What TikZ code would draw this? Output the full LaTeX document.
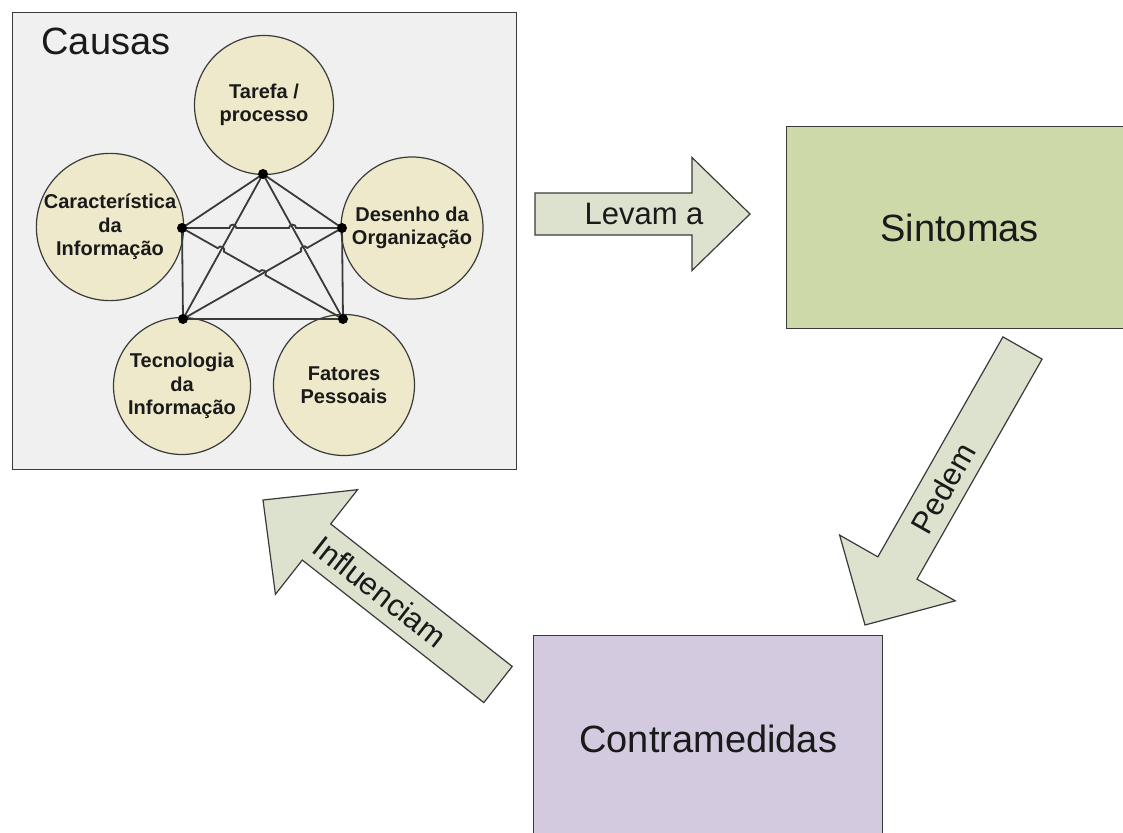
\documentclass[tikz,border=0pt]{standalone}
\usepackage{fontspec}
\setmainfont{Liberation Sans}
\usetikzlibrary{calc}

\definecolor{panelfill}{HTML}{F0F0F0}
\definecolor{framegray}{HTML}{3A3A3A}
\definecolor{causefill}{HTML}{EDE9CA}
\definecolor{symptomfill}{HTML}{CDD9A9}
\definecolor{counterfill}{HTML}{D4CAE0}
\definecolor{arrowfill}{HTML}{DCE2CE}
\definecolor{ink}{HTML}{1A1A1A}

% Block arrow from a tail centre to a tip:
% #1 tail, #2 tip, #3 half body width, #4 half head width, #5 head length
\newcommand{\blockarrow}[5]{%
  \coordinate (hb) at ($(#2)!#5!(#1)$);
  \draw[arrowshape]
    ($(#1)!#3!90:(#2)$) -- ($(hb)!#3!-90:(#1)$) -- ($(hb)!#4!-90:(#1)$)
    -- (#2) -- ($(hb)!#4!90:(#1)$) -- ($(hb)!#3!90:(#1)$)
    -- ($(#1)!#3!-90:(#2)$) -- cycle;
}

\tikzset{
  panel/.style={draw=framegray, line width=1.4pt, fill=panelfill,
    anchor=north west, inner sep=0pt},
  bigbox/.style={draw=framegray, line width=1.4pt, anchor=north west,
    inner sep=0pt, text=ink, font=\fontsize{38}{40}\selectfont},
  cause/.style={circle, draw=framegray, line width=1.2pt, fill=causefill,
    inner sep=0pt, align=center, text=ink,
    font=\bfseries\fontsize{20}{23.5}\selectfont},
  net/.style={draw=framegray, line width=1.8pt},
  arrowshape/.style={draw=framegray, line width=1.2pt, fill=arrowfill,
    line join=miter},
  arrowtext/.style={text=ink, font=\fontsize{31}{33}\selectfont, inner sep=0pt}
}

\begin{document}
\begin{tikzpicture}[x=1pt, y=-1pt]
\useasboundingbox (0,0) rectangle (1123,832);
\clip (0,0) rectangle (1123,832);
\fill[white] (0,0) rectangle (1123,832);

% Causes panel
\node[panel, minimum width=504pt, minimum height=457pt] (causas) at (12,12) {};
\node[anchor=base west, text=ink, font=\fontsize{38}{40}\selectfont] (causaslabel) at (38,55) {Causas};

% Five causes
\node[cause, minimum size=139pt] (tarefa) at (264,105) {Tarefa /\\processo};
\node[cause, minimum size=142pt] (caract) at (110,227) {Característica\\da\\Informação};
\node[cause, minimum size=142pt] (desenho) at (412,228) {Desenho da\\Organização};
\node[cause, minimum size=137pt] (tecno) at (182,386) {Tecnologia\\da\\Informação};
\node[cause, minimum size=141pt] (fatores) at (344,385) {Fatores\\Pessoais};

% Junction points of the network
\coordinate (T) at (263,174);
\coordinate (L) at (182,228);
\coordinate (R) at (342,228);
\coordinate (BL) at (183,319);
\coordinate (BR) at (343,319);

% Straight links
\draw[net] (T) -- (L);
\draw[net] (T) -- (R);
\draw[net] (T) -- (BL);
\draw[net] (T) -- (BR);
\draw[net] (L) -- (BL);
\draw[net] (R) -- (BR);
\draw[net] (BL) -- (BR);

% Links with line jumps at crossings
\draw[net] (L) -- ($(L)!0.296!(R)$) .. controls +(0,-4.5) and +(0,-4.5) .. ($(L)!0.340!(R)$)
  -- ($(L)!0.669!(R)$) .. controls +(0,-4.5) and +(0,-4.5) .. ($(L)!0.713!(R)$) -- (R);
\draw[net] (L) -- ($(L)!0.222!(BR)$) .. controls +(2.2,-3.9) and +(2.2,-3.9) .. ($(L)!0.260!(BR)$)
  -- ($(L)!0.481!(BR)$) .. controls +(2.2,-3.9) and +(2.2,-3.9) .. ($(L)!0.519!(BR)$) -- (BR);
\draw[net] (R) -- ($(R)!0.219!(BL)$) .. controls +(-2.2,-3.9) and +(-2.2,-3.9) .. ($(R)!0.257!(BL)$)
  -- (BL);

% Junction dots
\foreach \p in {T,L,R,BL,BR} \fill (\p) circle (5pt);

% Symptoms and countermeasures
\node[bigbox, fill=symptomfill, minimum width=346pt, minimum height=202pt] (sintomas) at (786,126) {Sintomas};
\node[bigbox, fill=counterfill, minimum width=349pt, minimum height=207pt] (contra) at (533,635) {Contramedidas};

% Block arrows of the cycle
\coordinate (lvTail) at (535,214);
\coordinate (lvTip) at (750,214);
\blockarrow{lvTail}{lvTip}{21pt}{56.5pt}{58pt}
\node[arrowtext] (levam) at ($(lvTail)!109pt!(lvTip)$) {Levam a};

\coordinate (pdTail) at (1022.5,348);
\coordinate (pdTip) at (865,625);
\blockarrow{pdTail}{pdTip}{22.5pt}{66.5pt}{65.6pt}
\node[arrowtext, rotate=60.4] (pedem) at ($(pdTail)!161pt!(pdTip)$) {Pedem};

\coordinate (inTail) at (498,684.5);
\coordinate (inTip) at (263,500);
\blockarrow{inTail}{inTip}{23pt}{66.5pt}{68pt}
\node[arrowtext, rotate=-38.1] (influ) at ($(inTail)!150pt!(inTip)$) {Influenciam};
\end{tikzpicture}
\end{document}
